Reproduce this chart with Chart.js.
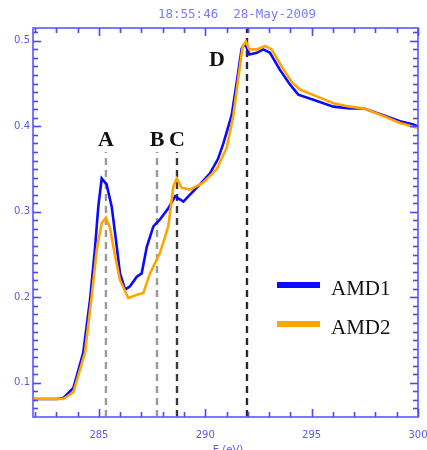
<!DOCTYPE html>
<html>
<head>
<meta charset="utf-8">
<script src="https://cdn.jsdelivr.net/npm/chart.js@4.4.1/dist/chart.umd.min.js"></script>
<style>
html,body{margin:0;padding:0;background:#fff;}
#wrap{width:427px;height:450px;}
</style>
</head>
<body>
<div id="wrap"><canvas id="c" width="427" height="450"></canvas></div>
<script>
// ---- data ----
const titleText = "18:55:46  28-May-2009";
const xTitle = "E (eV)";
const xTickValues = [285, 290, 295, 300];
const yTickValues = [0.1, 0.2, 0.3, 0.4, 0.5];
const seriesNames = ["AMD1", "AMD2"];

const amd1E = [281.9, 283.0, 283.32, 283.8, 284.26, 284.58, 284.81, 284.97, 285.13, 285.36, 285.6, 285.8, 285.99, 286.23, 286.46, 286.78, 287.01, 287.25, 287.56, 287.87, 288.26, 288.58, 288.97, 289.28, 289.75, 290.22, 290.6, 290.85, 291.24, 291.48, 291.71, 291.87, 292.07, 292.42, 292.73, 293.04, 293.51, 293.98, 294.37, 295.08, 296.02, 296.8, 297.43, 298.37, 299.15, 299.78, 300];
const amd1Y = [0.081, 0.081, 0.082, 0.094, 0.135, 0.197, 0.256, 0.306, 0.339, 0.332, 0.306, 0.267, 0.228, 0.209, 0.213, 0.224, 0.228, 0.259, 0.283, 0.291, 0.304, 0.318, 0.312, 0.320, 0.332, 0.345, 0.362, 0.380, 0.413, 0.452, 0.491, 0.497, 0.484, 0.486, 0.490, 0.486, 0.466, 0.449, 0.437, 0.431, 0.423, 0.421, 0.421, 0.413, 0.406, 0.402, 0.400];

const amd2E = [281.9, 283.0, 283.32, 283.8, 284.34, 284.66, 284.9, 285.13, 285.33, 285.52, 285.76, 285.99, 286.38, 286.78, 287.09, 287.4, 287.87, 288.26, 288.5, 288.66, 288.89, 289.28, 289.9, 290.54, 291.01, 291.32, 291.55, 291.76, 291.91, 292.07, 292.42, 292.81, 293.12, 293.59, 294.06, 294.45, 295.24, 296.02, 296.8, 297.43, 298.37, 299.15, 300];
const amd2Y = [0.081, 0.081, 0.081, 0.089, 0.135, 0.201, 0.256, 0.287, 0.293, 0.281, 0.248, 0.220, 0.199, 0.203, 0.205, 0.228, 0.252, 0.283, 0.330, 0.339, 0.328, 0.326, 0.334, 0.350, 0.375, 0.413, 0.456, 0.494, 0.499, 0.490, 0.490, 0.494, 0.490, 0.470, 0.452, 0.443, 0.435, 0.427, 0.423, 0.421, 0.412, 0.404, 0.398];

const markerLabels = ["A", "B", "C", "D"];
const markerE = [285.33, 287.73, 288.67, 291.96];
const markerTopY = [0.370, 0.370, 0.370, 0.515];
const labelE = [285.33, 287.73, 288.67, 290.55];
const labelY = [0.377, 0.377, 0.377, 0.470];

const X_MIN = 281.9, X_MAX = 300, Y_MIN = 0.06, Y_MAX = 0.515;

// ---- styles ----
const blue = '#0a0aff';
const orange = '#ffa500';
const axisColor = '#6c6cff';
const tickColor = '#4848ff';
const labelColor = '#5a5af0';
const markerColors = ['#9a9a9a', '#9a9a9a', '#3a3a3a', '#2a2a2a'];

const toXY = (xs, ys) => xs.map((x, i) => ({x: x, y: ys[i]}));

const datasets = [
  {label: seriesNames[1], data: toXY(amd2E, amd2Y), borderColor: orange, borderWidth: 2.6, pointRadius: 0, tension: 0, order: 1},
  {label: seriesNames[0], data: toXY(amd1E, amd1Y), borderColor: blue, borderWidth: 2.6, pointRadius: 0, tension: 0, order: 2}
];
markerE.forEach((e, i) => {
  datasets.push({
    label: 'm' + markerLabels[i],
    data: [{x: e, y: Y_MIN}, {x: e, y: markerTopY[i]}],
    borderColor: markerColors[i], borderWidth: 2.4, borderDash: [7, 5],
    pointRadius: 0, order: 3
  });
});

const decor = {
  id: 'decor',
  afterDraw(chart) {
    const ctx = chart.ctx, xs = chart.scales.x, ys = chart.scales.y, a = chart.chartArea;
    ctx.save();
    ctx.setLineDash([]);
    // frame
    ctx.strokeStyle = axisColor; ctx.lineWidth = 1.8;
    ctx.strokeRect(a.left, a.top, a.right - a.left, a.bottom - a.top);
    // x ticks (every 1 eV), top & bottom
    ctx.strokeStyle = tickColor;
    ctx.lineWidth = 1.6;
    for (let e = 282; e <= 300; e++) {
      const px = Math.round(xs.getPixelForValue(e)) + 0.5;
      const len = (e % 5 === 0) ? 8 : 5;
      ctx.beginPath();
      ctx.moveTo(px, a.bottom); ctx.lineTo(px, a.bottom - len);
      ctx.stroke();
      ctx.beginPath();
      ctx.moveTo(px, a.top); ctx.lineTo(px, a.top + len);
      ctx.stroke();
    }
    // y ticks (every 0.01), left & right
    for (let k = 7; k <= 51; k++) {
      const v = k / 100;
      const py = Math.round(ys.getPixelForValue(v)) + 0.5;
      const len = (k % 10 === 0) ? 8 : 5;
      ctx.beginPath();
      ctx.moveTo(a.left, py); ctx.lineTo(a.left + len, py);
      ctx.stroke();
      ctx.beginPath();
      ctx.moveTo(a.right, py); ctx.lineTo(a.right - len, py);
      ctx.stroke();
    }
    // tick labels
    ctx.fillStyle = labelColor;
    ctx.font = '10px "DejaVu Sans"';
    ctx.textAlign = 'right'; ctx.textBaseline = 'middle';
    yTickValues.forEach(v => ctx.fillText(v.toFixed(1), a.left - 3, ys.getPixelForValue(v)));
    ctx.textAlign = 'center'; ctx.textBaseline = 'middle';
    xTickValues.forEach(v => ctx.fillText(String(v), xs.getPixelForValue(v), 435));
    ctx.textBaseline = 'top';
    ctx.fillText(xTitle, 228, 445);
    // title
    ctx.font = '12.5px "DejaVu Sans Mono"';
    ctx.fillStyle = '#7a7aff';
    ctx.textBaseline = 'middle';
    ctx.fillText(titleText, 237, 15);
    // marker letters
    ctx.fillStyle = '#111';
    ctx.font = 'bold 22px "Liberation Serif"';
    ctx.textAlign = 'center'; ctx.textBaseline = 'alphabetic';
    markerLabels.forEach((t, i) => ctx.fillText(t, xs.getPixelForValue(labelE[i]), ys.getPixelForValue(labelY[i])));
    // legend
    const legY = [285, 324];
    const legColors = [blue, orange];
    seriesNames.forEach((n, i) => {
      ctx.strokeStyle = legColors[i]; ctx.lineWidth = 6;
      ctx.beginPath(); ctx.moveTo(277, legY[i]); ctx.lineTo(320, legY[i]); ctx.stroke();
      ctx.fillStyle = '#111';
      ctx.font = '21px "Liberation Serif"';
      ctx.textAlign = 'left'; ctx.textBaseline = 'middle';
      ctx.fillText(n, 331, legY[i] + 4);
    });
    ctx.restore();
  }
};

new Chart(document.getElementById('c'), {
  type: 'line',
  data: {datasets: datasets},
  options: {
    responsive: false,
    animation: false,
    devicePixelRatio: 1,
    layout: {padding: {left: 33, right: 9, top: 28, bottom: 33}},
    plugins: {legend: {display: false}, tooltip: {enabled: false}},
    scales: {
      x: {type: 'linear', min: X_MIN, max: X_MAX, display: false},
      y: {type: 'linear', min: Y_MIN, max: Y_MAX, display: false}
    }
  },
  plugins: [decor]
});
</script>
</body>
</html>
